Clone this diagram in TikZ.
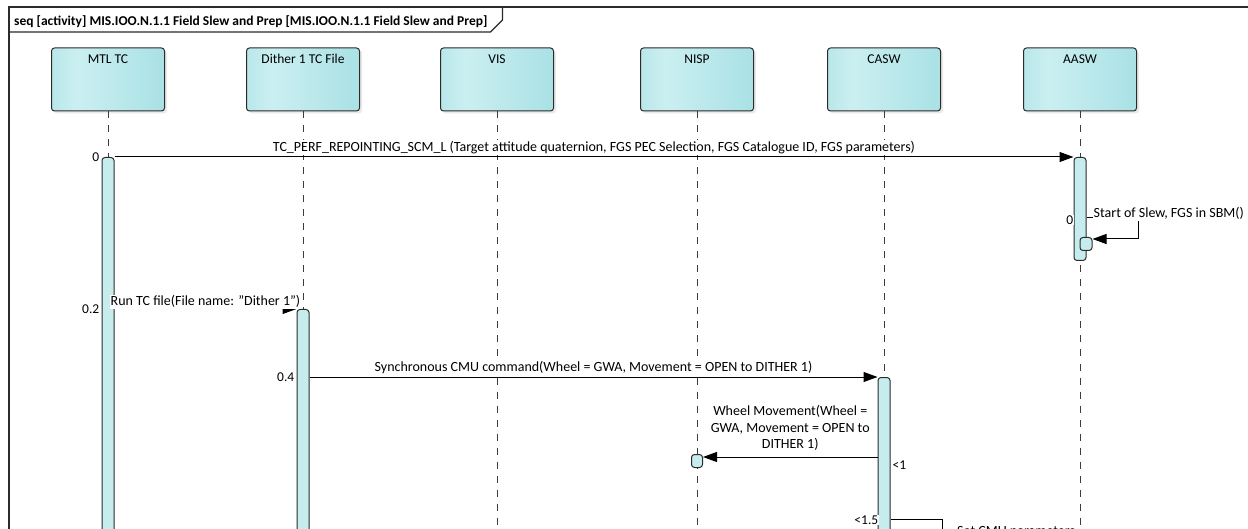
\documentclass[tikz,border=0pt]{standalone}
\usepackage{fontspec}
\setmainfont{Carlito}
\usetikzlibrary{arrows.meta,shadows,calc}
\definecolor{boxA}{HTML}{B9E7EA}
\definecolor{boxB}{HTML}{CBEFF1}
\definecolor{boxC}{HTML}{A9E1E5}
\definecolor{barfill}{HTML}{C7ECEE}
\definecolor{linec}{HTML}{2B2B2B}
\definecolor{dashc}{HTML}{3C3C3C}
\pgfdeclarehorizontalshading{lifeshade}{100bp}{color(0bp)=(boxA); color(25bp)=(boxA); color(36bp)=(boxB); color(75bp)=(boxC); color(100bp)=(boxC)}
\tikzset{
  lifebox/.style={draw=linec, line width=1pt, rounded corners=3pt, shade, shading=lifeshade,
    minimum width=113pt, minimum height=63pt, inner sep=0pt,
    drop shadow={shadow xshift=2.5pt, shadow yshift=-2.5pt, fill=black!16}},
  lifetext/.style={anchor=north, inner sep=0pt, text height=9pt, yshift=-7pt},
  lifeline/.style={draw=dashc, line width=1pt, dash pattern=on 7pt off 7pt},
  bar/.style={draw=linec, line width=1pt, fill=barfill, rounded corners=3pt,
    minimum width=12pt, inner sep=0pt},
  msg/.style={draw=black, line width=1pt, -{Triangle[length=14pt,width=10pt]}},
  plainline/.style={draw=black, line width=1pt},
  msglbl/.style={inner sep=1pt, fill=white, font=\fontsize{14pt}{16.5pt}\selectfont},
  numlbl/.style={inner sep=1pt, fill=white},
  frameline/.style={draw=linec, line width=1.2pt},
  hdrtext/.style={inner sep=0pt, font=\fontsize{13.5pt}{16pt}\selectfont\bfseries}
}
\begin{document}
\begin{tikzpicture}[x=1pt,y=-1pt, font=\fontsize{13.5pt}{16.5pt}\selectfont]
\useasboundingbox (0,0) rectangle (1248,529);
\clip (0,0) rectangle (1248,529);
\fill[white] (0,0) rectangle (1248,529);
% frame
\draw[frameline] (9,545) -- (9,7) -- (1260,7);
\node[hdrtext, anchor=base west] (hdr) at (14,26) {seq [activity] MIS.IOO.N.1.1 Field Slew and Prep [MIS.IOO.N.1.1 Field Slew and Prep]};
\coordinate (tabA0) at (hdr.east |- 0,32);
\coordinate (tabA) at ($(tabA0)+(3,0)$);
\draw[frameline] (9,32) -- (tabA) -- ++(12,-12) -- ++(0,-13);
% lifeline heads
\node[lifebox, label={[lifetext]north:MTL TC}] (mtl) at (108,79.5) {};
\node[lifebox, label={[lifetext]north:Dither 1 TC File}] (dit) at (303,79.5) {};
\node[lifebox, label={[lifetext]north:VIS}] (vis) at (497,79.5) {};
\node[lifebox, label={[lifetext]north:NISP}] (nisp) at (697,79.5) {};
\node[lifebox, label={[lifetext]north:CASW}] (casw) at (884,79.5) {};
\node[lifebox, label={[lifetext]north:AASW}] (aasw) at (1080,79.5) {};
% lifelines
\coordinate (mtlend) at (108,545);
\coordinate (ditend) at (303,545);
\coordinate (visend) at (497,545);
\coordinate (nispend) at (697,545);
\coordinate (caswend) at (884,545);
\coordinate (aaswend) at (1080,545);
\draw[lifeline] (mtl.south) -- (mtlend);
\draw[lifeline] (dit.south) -- (ditend);
\draw[lifeline] (vis.south) -- (visend);
\draw[lifeline] (nisp.south) -- (nispend);
\draw[lifeline] (casw.south) -- (caswend);
\draw[lifeline] (aasw.south) -- (aaswend);
% activation bars
\node[bar, minimum height=400pt, anchor=north] (mtlbar) at (108,157) {};
\node[bar, minimum height=250pt, anchor=north] (ditbar) at (303,309) {};
\node[bar, minimum height=180pt, anchor=north] (caswbar) at (884,377) {};
\node[bar, minimum height=103pt, anchor=north] (aaswbar) at (1080,157) {};
\node[bar, minimum height=13pt, anchor=north] (aaswsub) at (1086,237) {};
\node[bar, minimum height=13pt, minimum width=11pt, anchor=north] (nispbox) at (697,454) {};
% messages
\draw[msg] (mtlbar.north east) -- (aaswbar.north west);
\node[msglbl, anchor=south] (m1) at ($(mtlbar.north east)!0.5!(aaswbar.north west)+(0,-2)$)
  {TC\_PERF\_REPOINTING\_SCM\_L (Target attitude quaternion, FGS PEC Selection, FGS Catalogue ID, FGS parameters)};
\node[numlbl, anchor=east] (t0) at ($(mtlbar.north west)+(-1,0)$) {0};

\coordinate (s1) at (aaswbar.east |- 0,218);
\coordinate (s1end) at ($(aaswsub.north east)+(0,2)$);
\draw[msg] (s1) -- ++(52,0) |- (s1end);
\node[msglbl, anchor=south west] (m2) at ($(s1)+(6,3)$) {Start of Slew, FGS in SBM()};
\node[numlbl, anchor=east] (t1) at ($(aaswbar.west |- 0,220)+(1,0)$) {0};

\coordinate (r1) at (mtlbar.east |- ditbar.north);
\draw[msg] (r1) -- (ditbar.north west);
\node[msglbl, anchor=south] (m3) at ($(r1)!0.5!(ditbar.north west)$) {Run TC file(File name: "Dither 1")};
\node[numlbl, anchor=east] (t2) at ($(mtlbar.west |- r1)+(-1,0)$) {0.2};

\coordinate (r2) at (ditbar.east |- caswbar.north);
\draw[msg] (r2) -- (caswbar.north west);
\node[msglbl, anchor=south] (m4) at ($(r2)!0.5!(caswbar.north west)+(0,-2)$) {Synchronous CMU command(Wheel = GWA, Movement = OPEN to DITHER 1)};
\node[numlbl, anchor=east] (t3) at ($(ditbar.west |- r2)+(-1,0)$) {0.4};

\coordinate (w1) at (caswbar.west |- 0,457);
\draw[msg] (w1) -- (nispbox.east |- w1);
\node[msglbl, anchor=south, align=center] (m5) at ($(w1)!0.5!(nispbox.east |- w1)+(0,-5)$) {Wheel Movement(Wheel =\\GWA, Movement = OPEN to\\DITHER 1)};
\node[numlbl, anchor=west] (t4) at ($(caswbar.east |- 0,465)+(1,0)$) {<1};

\coordinate (s2) at (caswbar.east |- 0,519);
\draw[plainline] (s2) -- ++(52,0) -- ++(0,30);
\node[numlbl, anchor=east] (t5) at ($(caswbar.west |- 0,520)+(2,0)$) {<1.5};
\node[msglbl, anchor=north west] (m6) at (956,525) {Set CMU parameters};
\end{tikzpicture}
\end{document}
